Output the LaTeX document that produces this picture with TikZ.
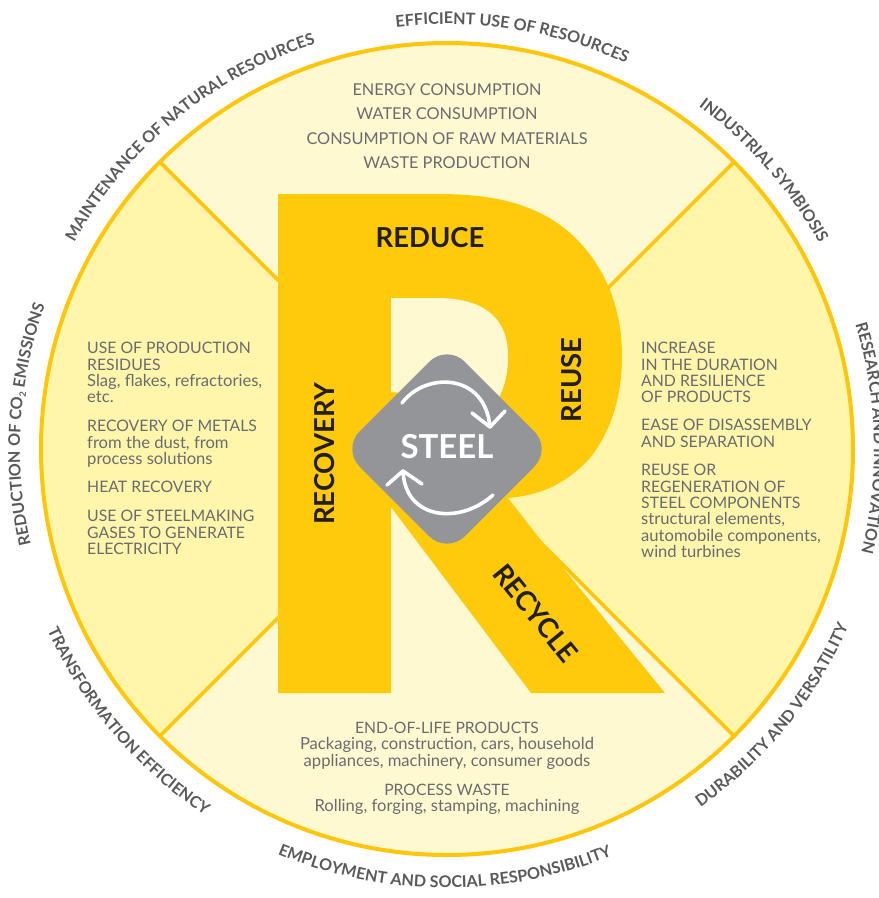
\documentclass[tikz,border=0pt]{standalone}
\usepackage{fontspec}
\setmainfont{Lato}
\usetikzlibrary{decorations.text}
\definecolor{ryellow}{HTML}{FFCA0C}
\definecolor{ring}{HTML}{FFC60B}
\definecolor{lightsec}{HTML}{FFF9D1}
\definecolor{darksec}{HTML}{FFF6AC}
\definecolor{bodygrey}{HTML}{6A6B6E}
\definecolor{labelgrey}{HTML}{58595B}
\definecolor{dark}{HTML}{231F20}
\definecolor{steelgrey}{HTML}{939598}
\newcommand{\lblfont}{\fontsize{16.1}{17}\selectfont\bfseries\color{labelgrey}}
\newcommand{\lc}[1]{{\fontsize{16.6}{16.4}\selectfont #1}}
\newcommand{\cwlabel}[3]{% centre angle, radius, text
  \path[decorate,decoration={text along path,text align=center,text={|\lblfont|#3}}]
    (447,449) ++(#1+30:#2pt) arc[start angle=#1+30,end angle=#1-30,radius=#2pt];}
\newcommand{\ccwlabel}[3]{%
  \path[decorate,decoration={text along path,text align=center,text={|\lblfont|#3}}]
    (447,449) ++(#1-30:#2pt) arc[start angle=#1-30,end angle=#1+30,radius=#2pt];}
\tikzset{
  bodytext/.style={inner sep=0pt,text=bodygrey,font=\fontsize{16.3}{16.4}\selectfont},
  leftblock/.style={bodytext,anchor=north west,align=left,font=\fontsize{15.8}{16.4}\selectfont},
  midblock/.style={bodytext,anchor=north,align=center,font=\fontsize{15.7}{16.4}\selectfont},
  rlabel/.style={inner sep=0pt,text=dark,font=\fontsize{27.5}{29}\selectfont\bfseries},
  divider/.style={ring,line width=3.6pt},
  loopline/.style={white,line width=3.6pt,line cap=round,line join=round}
}
\begin{document}
\begin{tikzpicture}[x=1pt,y=-1pt]
\useasboundingbox (0,0) rectangle (879,898);
\clip (0,0) rectangle (879,898);
% disc and sectors
\fill[darksec] (447,449) circle[radius=406pt];
\begin{scope}
  \clip (447,449) circle[radius=406pt];
  \fill[lightsec] (447,449) -- (-100,-98) -- (994,-98) -- cycle;
  \fill[lightsec] (447,449) -- (-100,996) -- (994,996) -- cycle;
  \draw[divider] (160,162) -- (734,736);
  \draw[divider] (734,162) -- (160,736);
\end{scope}
\draw[ring,line width=4pt] (447,449) circle[radius=406pt];
% the R
\fill[ryellow] (278,194) -- (437,194)
  .. controls (500,194) and (565,205) .. (603,275)
  .. controls (615,298) and (622,325) .. (622,356)
  .. controls (622,395) and (612,430) .. (590,458)
  .. controls (565,485) and (540,495) .. (508,498)
  -- (547,548) -- (665,693) -- (531,693) -- (391,507) -- (391,693) -- (278,693) -- cycle;
\fill[lightsec] (391,298) -- (437,298)
  .. controls (480,298) and (508,315) .. (508,356)
  .. controls (508,375) and (505,385) .. (498,400)
  -- (391,392) -- cycle;
% diamond
\fill[steelgrey,rounded corners=25pt] (447,344) -- (552,449) -- (447,554) -- (342,449) -- cycle;
\draw[loopline] (402,403) .. controls (425,372) and (485,372) .. (490,427);
\draw[loopline] (472,413) -- (490,427) -- (505,411);
\draw[loopline] (493,495) .. controls (460,525) and (405,520) .. (403,471);
\draw[loopline] (387,485) -- (403,471) -- (422,484);
\node[inner sep=0pt,text=white,font=\fontsize{33}{35}\selectfont\bfseries] (steel) at (447,447) {STEEL};
% R labels
\node[rlabel] (reduce) at (430,238) {REDUCE};
\node[rlabel,rotate=90] (recovery) at (324.5,454) {RECOVERY};
\node[rlabel,rotate=90] (reuse) at (571.5,380) {REUSE};
\node[rlabel,rotate=-50.9] (recycle) at (536,613) {RECYCLE};
% top sector
\node[bodytext,anchor=base] (t1) at (447,95) {ENERGY CONSUMPTION};
\node[bodytext,anchor=base] (t2) at (447,119) {WATER CONSUMPTION};
\node[bodytext,anchor=base] (t3) at (447,144) {CONSUMPTION OF RAW MATERIALS};
\node[bodytext,anchor=base] (t4) at (447,168) {WASTE PRODUCTION};
% left sector
\node[leftblock] (l1) at (87,342) {USE OF PRODUCTION\\RESIDUES\\\lc{Slag, flakes, refractories,}\\\lc{etc.}};
\node[leftblock] (l2) at (87,420) {RECOVERY OF METALS\\\lc{from the dust, from}\\\lc{process solutions}};
\node[leftblock] (l3) at (87,481) {HEAT RECOVERY};
\node[leftblock] (l4) at (87,510) {USE OF STEELMAKING\\GASES TO GENERATE\\ELECTRICITY};
% right sector
\node[leftblock] (r1) at (641,342) {INCREASE\\IN THE DURATION\\AND RESILIENCE\\OF PRODUCTS};
\node[leftblock] (r2) at (641,419) {EASE OF DISASSEMBLY\\AND SEPARATION};
\node[leftblock] (r3) at (641,464) {REUSE OR\\REGENERATION OF\\STEEL COMPONENTS\\\lc{structural elements,}\\\lc{automobile components,}\\\lc{wind turbines}};
% bottom sector
\node[midblock] (b1) at (447,722) {END-OF-LIFE PRODUCTS\\\lc{Packaging, construction, cars, household}\\\lc{appliances, machinery, consumer goods}};
\node[midblock] (b2) at (447,784) {PROCESS WASTE\\\lc{Rolling, forging, stamping, machining}};
% ring labels
\cwlabel{81}{425}{EFFICIENT USE OF RESOURCES}
\cwlabel{41.3}{425}{INDUSTRIAL SYMBIOSIS}
\cwlabel{1.5}{427}{RESEARCH AND INNOVATION}
\cwlabel{129.5}{426}{MAINTENANCE OF NATURAL RESOURCES}
\cwlabel{176.6}{427}{REDUCTION OF CO{\raisebox{-2.5pt}{\fontsize{9}{9}\selectfont 2}} EMISSIONS}
\ccwlabel{-39.3}{439}{DURABILITY AND VERSATILITY}
\ccwlabel{-90.3}{439}{EMPLOYMENT AND SOCIAL RESPONSIBILITY}
\ccwlabel{-139.5}{439}{TRANSFORMATION EFFICIENCY}
\end{tikzpicture}
\end{document}
